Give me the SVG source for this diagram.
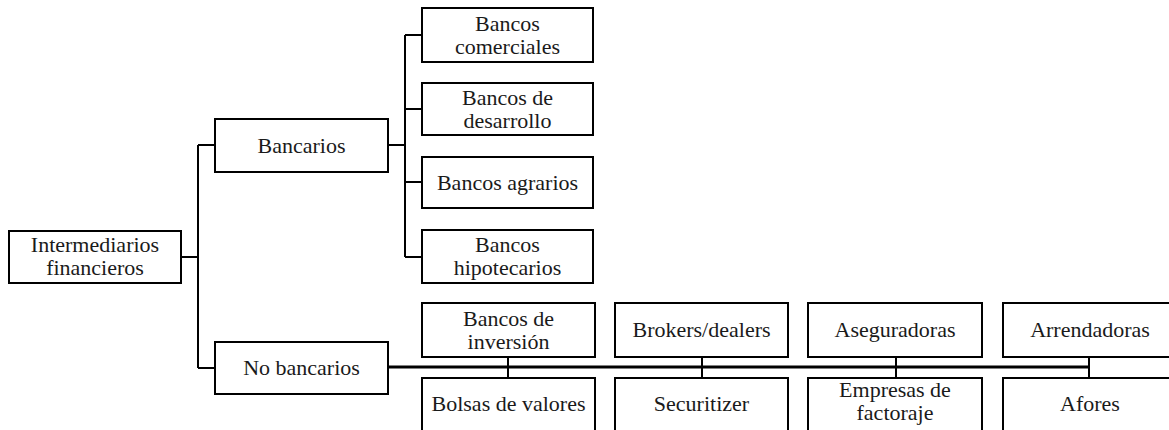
<svg xmlns="http://www.w3.org/2000/svg" width="1169" height="430" viewBox="0 0 1169 430">
<style>
rect{fill:#fff;stroke:#000;stroke-width:2}
text{font-family:'Liberation Serif',serif;font-size:22px;fill:#1a1a1a;text-anchor:middle}
.c{fill:none;stroke:#000;stroke-width:2}
.m{fill:none;stroke:#000;stroke-width:3}
</style>
<rect x="0" y="0" width="1169" height="430" style="stroke:none"/>
<g id="connectors">
<path class="c" d="M181 257H198M198 145V368M198 145H215M198 368H215"/>
<path class="c" d="M388 145H405M405 35V257M405 35H422M405 109H422M405 182H422M405 257H422"/>
<path class="m" d="M388 367H1089"/>
<path class="c" d="M508 357V378M702 357V378M896 357V378M1089 357V378"/>
</g>
<g font-family="Liberation Serif, serif">
<g id="root"><rect x="9" y="231" width="172" height="52"/><text x="95" y="252">Intermediarios</text><text x="95" y="275">financieros</text></g>
<g id="bancarios"><rect x="215" y="119" width="173" height="53"/><text x="301.5" y="153">Bancarios</text></g>
<g id="nobancarios"><rect x="215" y="342" width="173" height="52"/><text x="301.5" y="375">No bancarios</text></g>
<g id="comerciales"><rect x="422" y="8" width="171" height="54"/><text x="507.5" y="31">Bancos</text><text x="507.5" y="54">comerciales</text></g>
<g id="desarrollo"><rect x="422" y="83" width="171" height="52"/><text x="507.5" y="105">Bancos de</text><text x="507.5" y="128">desarrollo</text></g>
<g id="agrarios"><rect x="422" y="157" width="171" height="51"/><text x="507.5" y="190">Bancos agrarios</text></g>
<g id="hipotecarios"><rect x="422" y="230" width="171" height="53"/><text x="507.5" y="252">Bancos</text><text x="507.5" y="275">hipotecarios</text></g>
<g id="inversion"><rect x="422" y="303" width="173" height="54"/><text x="508.5" y="326">Bancos de</text><text x="508.5" y="349">inversión</text></g>
<g id="brokers"><rect x="615" y="303" width="173" height="54"/><text x="701.5" y="337">Brokers/dealers</text></g>
<g id="aseguradoras"><rect x="808" y="303" width="174" height="54"/><text x="895" y="337">Aseguradoras</text></g>
<g id="arrendadoras"><rect x="1003" y="303" width="175" height="54"/><text x="1090" y="337">Arrendadoras</text></g>
<g id="bolsas"><rect x="422" y="378" width="173" height="56"/><text x="508.5" y="411">Bolsas de valores</text></g>
<g id="securitizer"><rect x="615" y="378" width="173" height="56"/><text x="701.5" y="411">Securitizer</text></g>
<g id="factoraje"><rect x="808" y="378" width="174" height="56"/><text x="895" y="397">Empresas de</text><text x="895" y="420">factoraje</text></g>
<g id="afores"><rect x="1003" y="378" width="175" height="56"/><text x="1090" y="411">Afores</text></g>
</g>
</svg>
